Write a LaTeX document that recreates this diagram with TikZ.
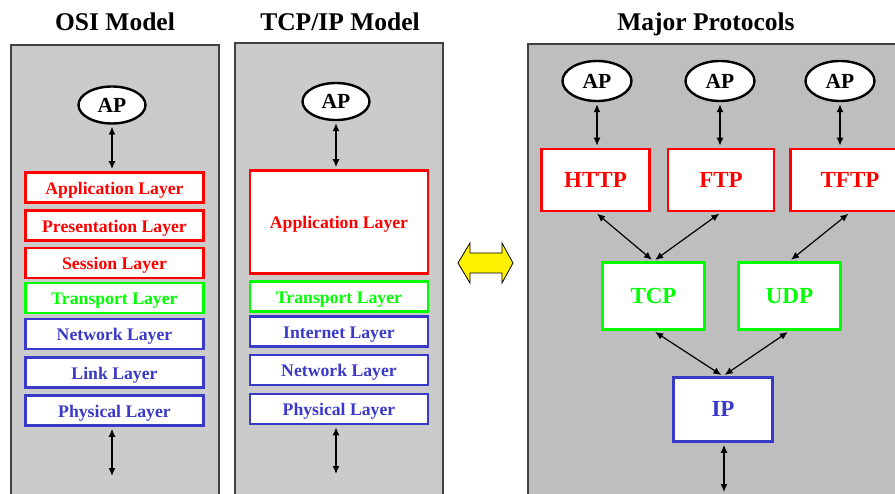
\documentclass[tikz,border=0pt]{standalone}
\usepackage{fontspec}
\setmainfont{Liberation Serif}
\usetikzlibrary{shapes.geometric}
\usetikzlibrary{arrows.meta}

\definecolor{layred}{RGB}{255,0,0}
\definecolor{laygreen}{RGB}{0,255,0}
\definecolor{layblue}{RGB}{58,58,200}
\definecolor{panelgray}{RGB}{203,203,203}
\definecolor{protogray}{RGB}{190,190,190}

\begin{document}
\begin{tikzpicture}[x=1pt,y=-1pt,
  panel/.style={draw=black!75,line width=1.3pt},
  title/.style={anchor=base,font=\fontsize{25.5}{28}\selectfont\bfseries},
  ap/.style={ellipse,draw,line width=2.4pt,fill=white,inner sep=0pt,minimum width=67,minimum height=37,font=\fontsize{21.5}{24}\selectfont\bfseries},
  layer/.style={draw,line width=2.8pt,fill=white,minimum width=178,minimum height=30,text height=14pt,text depth=0pt,font=\fontsize{17.7}{20}\selectfont\bfseries},
  proto/.style={draw,line width=2.8pt,fill=white,minimum width=106,minimum height=62,text height=15pt,text depth=0pt,font=\fontsize{23}{26}\selectfont\bfseries},
  redl/.style={draw=layred,text=layred},
  greenl/.style={draw=laygreen,text=laygreen},
  bluel/.style={draw=layblue,text=layblue},
  link/.style={{Latex[length=8pt,width=7pt]}-{Latex[length=8pt,width=7pt]},line width=1.2pt,shorten <=2pt,shorten >=2pt}]
 \useasboundingbox (0,0) rectangle (895,494);
 \clip (0,0) rectangle (895,494);
 \fill[white] (0,0) rectangle (895,494);

 \draw[panel,fill=panelgray] (11,520)--(11,45)--(219,45)--(219,520);
 \draw[panel,fill=panelgray] (235,520)--(235,43)--(443,43)--(443,520);
 \draw[panel,fill=protogray] (528,520)--(528,44)--(920,44)--(920,520);

 \node[title] (osititle) at (115,31) {OSI Model};
 \node[title] (tcptitle) at (340,31) {TCP/IP Model};
 \node[title] (prototitle) at (706,31) {Major Protocols};

 % OSI model
 \node[ap] (osiap) at (112,105) {AP};
 \node[layer,redl] (osiapp) at (114.5,187.5) {Application Layer};
 \node[layer,redl] (osipres) at (114.5,225.5) {Presentation Layer};
 \node[layer,redl] (osisess) at (114.5,263) {Session Layer};
 \node[layer,greenl] (ositrans) at (114.5,298) {Transport Layer};
 \node[layer,bluel] (osinet) at (114.5,334) {Network Layer};
 \node[layer,bluel] (osilink) at (114.5,372.5) {Link Layer};
 \node[layer,bluel] (osiphys) at (114.5,410.5) {Physical Layer};
 \coordinate (osiend) at (112,478);
 \draw[link] (osiap.south) -- (osiap.south |- osiapp.north);
 \draw[link] (osiphys.south -| osiend) -- (osiend);

 % TCP/IP model
 \node[ap] (tcpap) at (336,101.5) {AP};
 \node[layer,redl,minimum height=103] (tcpapp) at (339,222) {Application Layer};
 \node[layer,greenl] (tcptrans) at (339,296.5) {Transport Layer};
 \node[layer,bluel] (tcpinet) at (339,331.5) {Internet Layer};
 \node[layer,bluel] (tcpnet) at (339,370) {Network Layer};
 \node[layer,bluel] (tcpphys) at (339,409) {Physical Layer};
 \coordinate (tcpend) at (336,476);
 \draw[link] (tcpap.south) -- (tcpap.south |- tcpapp.north);
 \draw[link] (tcpphys.south -| tcpend) -- (tcpend);

 \draw[line width=0.8pt,fill=yellow] (458,263)--(470,243)--(470,253)--(502,253)--(502,243)--(513,263)
   --(502,283)--(502,273)--(470,273)--(470,283)--cycle;

 % major protocols
 \node[ap,minimum width=69,minimum height=40] (httpap) at (597,81) {AP};
 \node[ap,minimum width=69,minimum height=40] (ftpap) at (720,81) {AP};
 \node[ap,minimum width=69,minimum height=40] (tftpap) at (840,81) {AP};
 \node[proto,redl,minimum width=108] (http) at (595.5,180) {HTTP};
 \node[proto,redl] (ftp) at (721,180) {FTP};
 \node[proto,redl,minimum width=119] (tftp) at (850,180) {TFTP};
 \node[proto,greenl,minimum width=102,minimum height=67] (tcp) at (653.5,296) {TCP};
 \node[proto,greenl,minimum width=102,minimum height=67] (udp) at (789.5,296) {UDP};
 \node[proto,bluel,minimum width=99,minimum height=64] (ip) at (723,409.5) {IP};
 \coordinate (ipend) at (724,494);
 \draw[link] (httpap.south) -- (httpap.south |- http.north);
 \draw[link] (ftpap.south) -- (ftpap.south |- ftp.north);
 \draw[link] (tftpap.south) -- (tftpap.south |- tftp.north);
 \draw[link] (http.south) -- (tcp.north);
 \draw[link] (ftp.south) -- (tcp.north);
 \draw[link] (tftp.south) -- (udp.north);
 \draw[link] (tcp.south) -- (ip.north);
 \draw[link] (udp.south) -- (ip.north);
 \draw[link] (ip.south -| ipend) -- (ipend);
\end{tikzpicture}
\end{document}
